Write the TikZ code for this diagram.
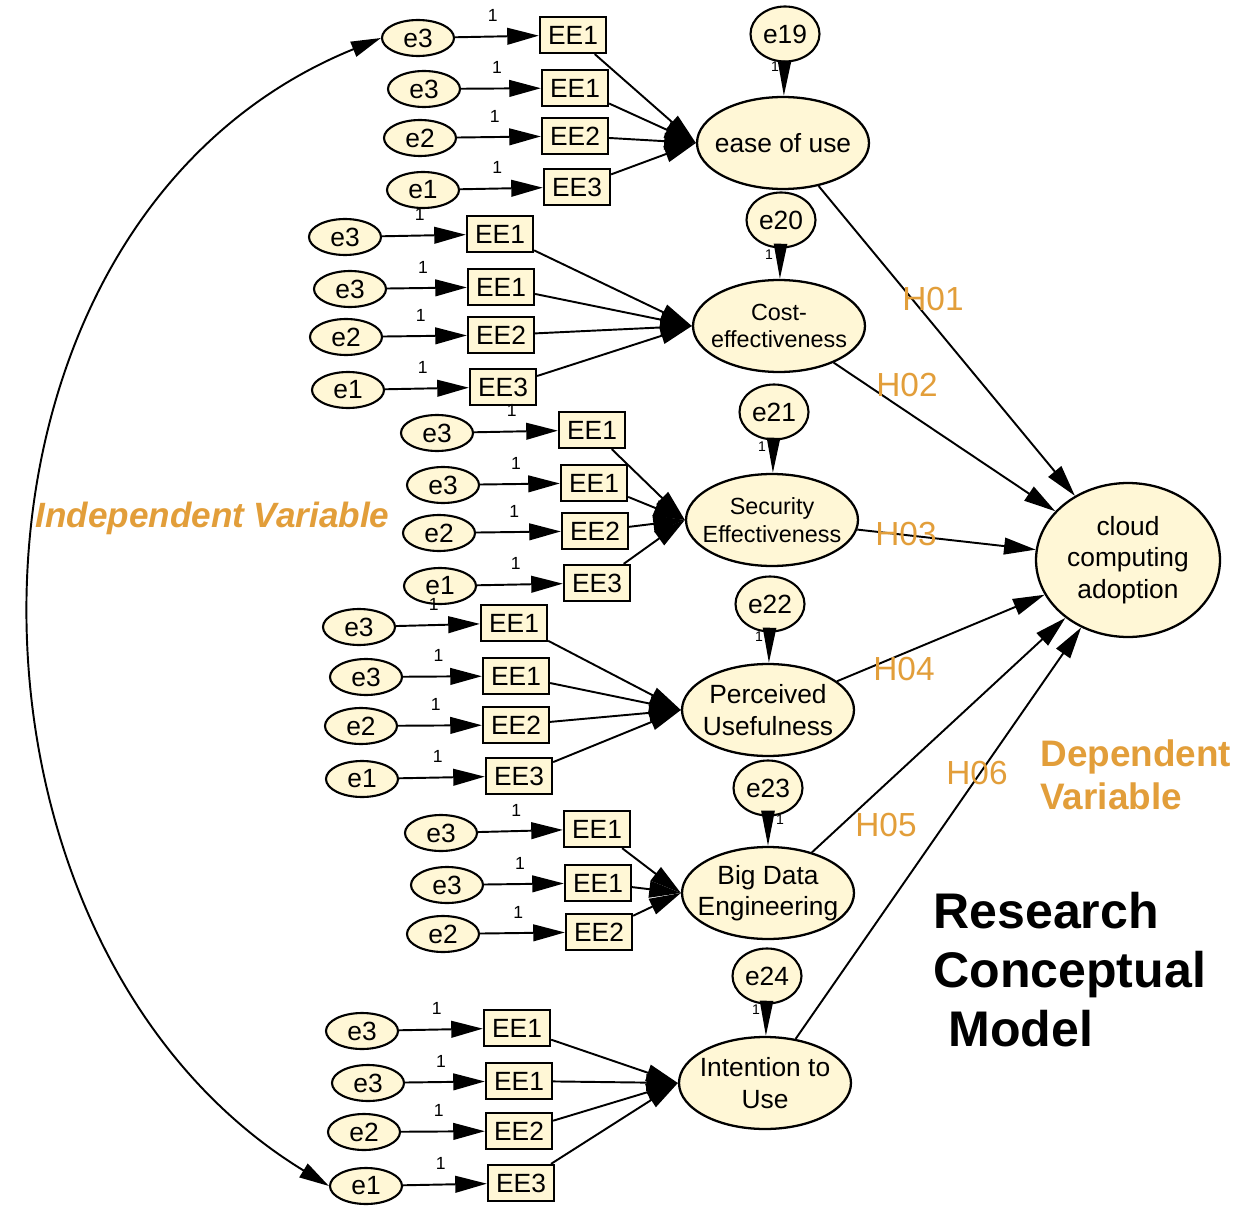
\documentclass[tikz,border=0pt]{standalone}
\usepackage{fontspec}
\setmainfont{Liberation Sans}
\usepackage{tikz}
\usetikzlibrary{arrows.meta, shapes.geometric}

\definecolor{cream}{RGB}{255,247,214}
\definecolor{amosorange}{RGB}{226,158,58}

\begin{document}
\begin{tikzpicture}[
    x=0.02cm, y=-0.02cm,
    err/.style={draw, ellipse, fill=cream, line width=1.2pt, minimum width=1.44cm, minimum height=0.72cm, inner sep=0pt, font=\fontsize{15pt}{18pt}\selectfont},
    obs/.style={draw, rectangle, fill=cream, line width=1.3pt, minimum width=1.32cm, minimum height=0.72cm, inner sep=0pt, font=\fontsize{15pt}{18pt}\selectfont},
    res/.style={draw, ellipse, fill=cream, line width=1.2pt, minimum width=1.38cm, minimum height=1.1cm, inner sep=0pt, font=\fontsize{15pt}{18pt}\selectfont},
    lat/.style={draw, ellipse, fill=cream, line width=1.3pt, minimum width=3.44cm, minimum height=1.84cm, inner sep=0pt},
    lattext/.style={align=center, inner sep=0pt, font=\fontsize{15pt}{18pt}\selectfont},
    smalltext/.style={lattext, font=\fontsize{13.3pt}{15.8pt}\selectfont},
    one/.style={font=\fontsize{10pt}{12pt}\selectfont, inner sep=0pt},
    tinyone/.style={font=\fontsize{8pt}{10pt}\selectfont, inner sep=0pt},
    hyp/.style={text=amosorange, font=\fontsize{19pt}{22pt}\selectfont, inner sep=0pt},
    ar/.style={-{Triangle[length=18pt,width=9.5pt]}, line width=1.1pt},
    rar/.style={-{Triangle[length=20pt,width=7.5pt]}, line width=1.1pt},
    dar/.style={{Triangle[length=17pt,width=9pt]}-{Triangle[length=17pt,width=9pt]}, line width=1.1pt},
]
  \useasboundingbox (0,0) rectangle (1251,1206);

  % Latent variables
  \node[lat, label={[lattext]center:ease of use}] (ease) at (783,143) {};
  \node[lat, label={[smalltext]center:{Cost-\\effectiveness}}] (cost) at (779,326) {};
  \node[lat, label={[smalltext]center:{Security\\Effectiveness}}] (secu) at (772,520) {};
  \node[lat, label={[lattext]center:{Perceived\\Usefulness}}] (perc) at (768,710) {};
  \node[lat, label={[lattext]center:{Big Data\\Engineering}}] (bigd) at (768,893) {};
  \node[lat, label={[lattext]center:{Intention to\\Use}}] (intn) at (765,1083) {};
  \node[lat, minimum width=3.68cm, minimum height=3.08cm, label={[lattext]center:{cloud\\computing\\adoption}}] (adopt) at (1128,560) {};

  % Residuals
  \node[res] (r19) at (785,34) {e19};
  \node[res] (r20) at (781,220) {e20};
  \node[res] (r21) at (774,412) {e21};
  \node[res] (r22) at (770,604) {e22};
  \node[res] (r23) at (768,788) {e23};
  \node[res] (r24) at (767,976) {e24};
  \draw[rar] (r19) -- (ease);
  \draw[rar] (r20) -- (cost);
  \draw[rar] (r21) -- (secu);
  \draw[rar] (r22) -- (perc);
  \draw[rar] (r23) -- (bigd);
  \draw[rar] (r24) -- (intn);
  \node[tinyone] (o19) at (775,67) {1};
  \node[tinyone] (o20) at (769,255) {1};
  \node[tinyone] (o21) at (762,447) {1};
  \node[tinyone] (o22) at (759,637) {1};
  \node[tinyone] (o23) at (780,820) {1};
  \node[tinyone] (o24) at (756,1010) {1};

  % Indicators: ease of use
  \foreach \i/\ex/\ey/\bx/\by/\et/\bt in {1/418/38/573/35/e3/EE1, 2/424/89/575/88/e3/EE1, 3/420/138/575/136/e2/EE2, 4/423/190/577/187/e1/EE3}{
    \node[err] (ea\i) at (\ex,\ey) {\et};
    \node[obs] (xa\i) at (\bx,\by) {\bt};
    \draw[ar] (ea\i) -- node[one, pos=.45, above=8pt] {1} (xa\i);
    \draw[ar] (xa\i) -- (ease.west);
  }

  % Indicators: cost-effectiveness
  \foreach \i/\ex/\ey/\bx/\by/\et/\bt in {1/345/237/500/234/e3/EE1, 2/350/289/501/287/e3/EE1, 3/346/337/501/335/e2/EE2, 4/348/390/503/387/e1/EE3}{
    \node[err] (eb\i) at (\ex,\ey) {\et};
    \node[obs] (xb\i) at (\bx,\by) {\bt};
    \draw[ar] (eb\i) -- node[one, pos=.45, above=8pt] {1} (xb\i);
    \draw[ar] (xb\i) -- (cost.west);
  }

  % Indicators: security effectiveness
  \foreach \i/\ex/\ey/\bx/\by/\et/\bt in {1/437/433/592/430/e3/EE1, 2/443/485/594/483/e3/EE1, 3/439/533/595/531/e2/EE2, 4/440/586/597/583/e1/EE3}{
    \node[err] (ec\i) at (\ex,\ey) {\et};
    \node[obs] (xc\i) at (\bx,\by) {\bt};
    \draw[ar] (ec\i) -- node[one, pos=.45, above=8pt] {1} (xc\i);
    \draw[ar] (xc\i) -- (secu.west);
  }

  % Indicators: perceived usefulness
  \foreach \i/\ex/\ey/\bx/\by/\et/\bt in {1/359/627/514/623/e3/EE1, 2/366/677/516/676/e3/EE1, 3/361/726/516/725/e2/EE2, 4/362/779/519/776/e1/EE3}{
    \node[err] (ed\i) at (\ex,\ey) {\et};
    \node[obs] (xd\i) at (\bx,\by) {\bt};
    \draw[ar] (ed\i) -- node[one, pos=.45, above=8pt] {1} (xd\i);
    \draw[ar] (xd\i) -- (perc.west);
  }

  % Indicators: big data engineering
  \foreach \i/\ex/\ey/\bx/\by/\et/\bt in {1/441/833/597/829/e3/EE1, 2/447/885/598/883/e3/EE1, 3/443/934/599/932/e2/EE2}{
    \node[err] (ee\i) at (\ex,\ey) {\et};
    \node[obs] (xe\i) at (\bx,\by) {\bt};
    \draw[ar] (ee\i) -- node[one, pos=.45, above=8pt] {1} (xe\i);
    \draw[ar] (xe\i) -- (bigd.west);
  }

  % Indicators: intention to use
  \foreach \i/\ex/\ey/\bx/\by/\et/\bt in {1/362/1031/517/1028/e3/EE1, 2/368/1083/519/1081/e3/EE1, 3/364/1132/519/1131/e2/EE2, 4/366/1186/521/1183/e1/EE3}{
    \node[err] (ef\i) at (\ex,\ey) {\et};
    \node[obs] (xf\i) at (\bx,\by) {\bt};
    \draw[ar] (ef\i) -- node[one, pos=.45, above=8pt] {1} (xf\i);
    \draw[ar] (xf\i) -- (intn.west);
  }

  % Covariance
  \draw[dar] (ea1.west) .. controls (-74,223) and (-74,940) .. (ef4.west);

  % Hypotheses
  \draw[ar] (ease) -- (adopt);
  \draw[ar] (cost) -- (adopt);
  \draw[ar] (secu) -- (adopt);
  \draw[ar] (perc) -- (adopt);
  \draw[ar] (bigd) -- (adopt);
  \draw[ar] (intn) -- (adopt);
  \node[hyp] (h1) at (933,299) {H01};
  \node[hyp] (h2) at (907,385) {H02};
  \node[hyp] (h3) at (906,534) {H03};
  \node[hyp] (h4) at (904,669) {H04};
  \node[hyp] (h5) at (886,825) {H05};
  \node[hyp] (h6) at (977,773) {H06};

  % Titles
  \node[text=amosorange, font=\fontsize{20pt}{24pt}\selectfont\bfseries\itshape, anchor=base west, inner sep=0pt] (indep) at (35,527) {Independent Variable};
  \node[text=amosorange, font=\fontsize{21pt}{24.5pt}\selectfont\bfseries, anchor=north west, align=left, inner sep=0pt] (dep) at (1040,739) {Dependent\\Variable};
  \node[font=\fontsize{28.5pt}{33.6pt}\selectfont\bfseries, anchor=north west, align=left, inner sep=0pt] (title) at (933,892) {Research\\Conceptual\\\hspace{8.5pt}Model};
\end{tikzpicture}
\end{document}
